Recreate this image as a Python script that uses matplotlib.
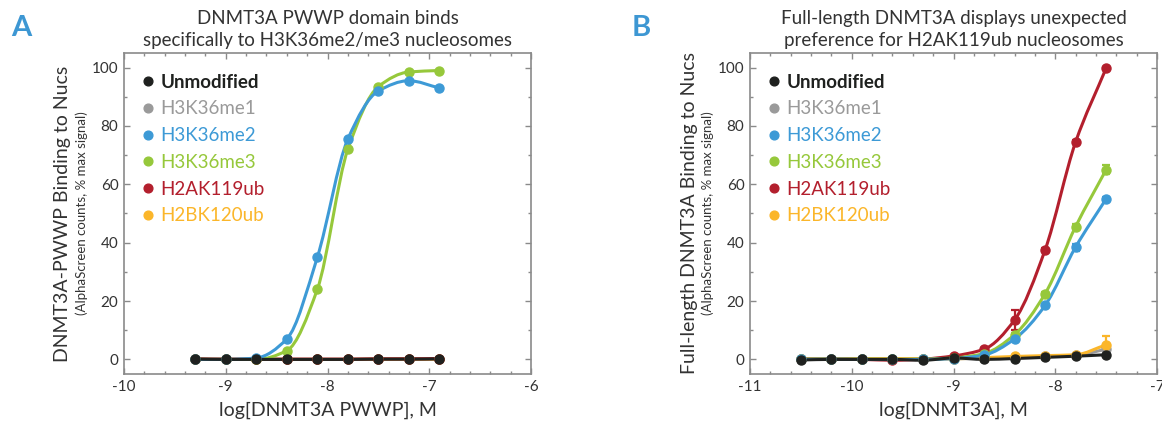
import numpy as np
import matplotlib
matplotlib.use("Agg")
import matplotlib.pyplot as plt
from matplotlib.path import Path
from matplotlib.patches import PathPatch
from matplotlib.lines import Line2D
from matplotlib.ticker import MultipleLocator

plt.rcParams["font.family"] = ["Lato", "DejaVu Sans"]
plt.rcParams["axes.unicode_minus"] = False

W, H = 1162, 424
TXT = "#333333"
SPINE = "#8a8a8a"

NAMES = ["Unmodified", "H3K36me1", "H3K36me2", "H3K36me3", "H2AK119ub", "H2BK120ub"]
COLORS = {"Unmodified": "#1f211f", "H3K36me1": "#9a9a9a", "H3K36me2": "#3d9ad6",
          "H3K36me3": "#96c83b", "H2AK119ub": "#b31f2d", "H2BK120ub": "#fbb62a"}

# panel A: DNMT3A PWWP titration
x_a = [-9.3, -9.0, -8.7, -8.4, -8.1, -7.8, -7.5, -7.2, -6.9]
a_unmod = [0.1, 0.0, 0.0, 0.0, 0.0, 0.0, 0.1, 0.1, 0.2]
a_me1 = [0.1, 0.0, 0.0, 0.0, 0.0, 0.0, 0.0, 0.1, 0.1]
a_me2 = [0.0, 0.0, 0.5, 7.0, 35.0, 75.5, 92.0, 95.5, 93.0]
a_me3 = [0.0, 0.0, 0.0, 3.0, 24.0, 72.0, 93.5, 98.5, 99.0]
a_h2a = [0.2, 0.1, 0.1, 0.1, 0.1, 0.1, 0.2, 0.2, 0.3]
a_h2b = [0.1, 0.0, 0.0, 0.0, 0.0, 0.0, 0.1, 0.1, 0.1]

# panel B: full-length DNMT3A titration
x_b = [-10.5, -10.2, -9.9, -9.6, -9.3, -9.0, -8.7, -8.4, -8.1, -7.8, -7.5]
b_unmod = [-0.2, 0.0, 0.0, 0.0, -0.3, 0.5, 0.0, 0.3, 0.7, 1.1, 1.6]
b_me1 = [0.1, 0.1, 0.1, 0.1, 0.0, 0.2, 0.4, 0.7, 1.0, 1.4, 3.5]
b_me2 = [0.0, 0.1, 0.0, 0.0, 0.0, 0.3, 1.5, 7.0, 18.5, 38.5, 55.0]
b_me3 = [0.1, 0.1, 0.1, 0.0, 0.1, 0.5, 2.0, 8.5, 22.5, 45.5, 65.0]
b_h2a = [0.1, 0.1, 0.0, -0.3, 0.1, 1.2, 3.5, 13.5, 37.5, 74.5, 99.8]
b_h2b = [0.3, 0.3, 0.3, 0.3, 0.3, 0.2, 0.6, 1.0, 1.3, 1.6, 5.0]
b_err_me2 = [0, 0, 0, 0, 0, 0, 0, 0.5, 0.6, 1.2, 0.6]
b_err_me3 = [0, 0, 0, 0, 0, 0, 0, 0.6, 0.6, 0.8, 1.6]
b_err_h2a = [0, 0, 0, 0, 0, 0, 0.4, 3.3, 0.6, 0.8, 0.5]
b_err_h2b = [0, 0, 0, 0, 0, 0, 0, 0, 0, 0, 3.0]

panel_a = {"Unmodified": a_unmod, "H3K36me1": a_me1, "H3K36me2": a_me2,
           "H3K36me3": a_me3, "H2AK119ub": a_h2a, "H2BK120ub": a_h2b}
panel_b = {"Unmodified": b_unmod, "H3K36me1": b_me1, "H3K36me2": b_me2,
           "H3K36me3": b_me3, "H2AK119ub": b_h2a, "H2BK120ub": b_h2b}
errs_b = {"H3K36me2": b_err_me2, "H3K36me3": b_err_me3,
          "H2AK119ub": b_err_h2a, "H2BK120ub": b_err_h2b}
DRAW_ORDER = ["H3K36me1", "H2BK120ub", "H2AK119ub", "H3K36me3", "H3K36me2", "Unmodified"]


def smooth_path(x, y):
    # monotone cubic (Fritsch-Carlson) segments as Bezier curves through the points
    x = np.asarray(x, float); y = np.asarray(y, float)
    h = np.diff(x); d = np.diff(y) / h
    m = np.zeros_like(y)
    m[0], m[-1] = d[0], d[-1]
    for i in range(1, len(y) - 1):
        if d[i - 1] * d[i] > 0:
            m[i] = 2.0 / (1.0 / d[i - 1] + 1.0 / d[i])
    verts = [(x[0], y[0])]
    codes = [Path.MOVETO]
    for i in range(len(x) - 1):
        verts += [(x[i] + h[i] / 3, y[i] + m[i] * h[i] / 3),
                  (x[i + 1] - h[i] / 3, y[i + 1] - m[i + 1] * h[i] / 3),
                  (x[i + 1], y[i + 1])]
        codes += [Path.CURVE4] * 3
    return Path(verts, codes)


def draw_panel(ax, x, series, errs, xlim, xlabel, ylabel, title):
    for name in DRAW_ORDER:
        c = COLORS[name]
        ax.add_patch(PathPatch(smooth_path(x, series[name]), fill=False, ec=c, lw=2.2,
                               capstyle="round", zorder=3))
        if name in errs:
            ax.errorbar(x, series[name], yerr=errs[name], fmt="none", ecolor=c,
                        elinewidth=1.6, capsize=3, capthick=1.6, zorder=3)
        ax.plot(x, series[name], "o", color=c, ms=6.5, zorder=4)
    ax.set_xlim(*xlim)
    ax.set_ylim(-5, 105)
    ax.xaxis.set_major_locator(MultipleLocator(1))
    ax.xaxis.set_minor_locator(MultipleLocator(0.2))
    ax.yaxis.set_major_locator(MultipleLocator(20))
    ax.yaxis.set_minor_locator(MultipleLocator(10))
    ax.tick_params(which="both", direction="in", top=True, right=True, color=SPINE,
                   width=1.0, labelsize=11, labelcolor=TXT)
    ax.tick_params(which="major", length=4, pad=4)
    ax.tick_params(which="minor", length=2.5)
    for s in ax.spines.values():
        s.set_color(SPINE); s.set_linewidth(1.2)
    ax.set_xlabel(xlabel, fontsize=14, color=TXT, labelpad=6)
    ax.set_title(title, fontsize=13.5, color=TXT, pad=5, linespacing=1.35)
    handles = [Line2D([], [], ls="none", marker="o", ms=6.3, color=COLORS[n]) for n in NAMES]
    leg = ax.legend(handles, NAMES, loc="upper left", frameon=False, fontsize=13.5,
                    labelcolor=[COLORS[n] for n in NAMES], handlelength=0.4,
                    handletextpad=0.45, labelspacing=0.52, borderaxespad=0.8,
                    borderpad=0.3)
    leg.get_texts()[0].set_fontweight("bold")
    pos = ax.get_position()
    left_px = pos.x0 * W
    ymid = (pos.y0 + pos.y1) / 2
    fig.text((left_px - 61) / W, ymid, ylabel, rotation=90, ha="center", va="center",
             fontsize=14, color=TXT)
    fig.text((left_px - 42) / W, ymid, "(AlphaScreen counts, % max signal)", rotation=90,
             ha="center", va="center", fontsize=9.5, color=TXT)


fig = plt.figure(figsize=(W / 100, H / 100), dpi=100)
axA = fig.add_axes([124 / W, 50 / H, 407 / W, 321 / H])
axB = fig.add_axes([750 / W, 50 / H, 407 / W, 321 / H])

draw_panel(axA, x_a, panel_a, {}, (-10, -6), "log[DNMT3A PWWP], M",
           "DNMT3A-PWWP Binding to Nucs",
           "DNMT3A PWWP domain binds\nspecifically to H3K36me2/me3 nucleosomes")
draw_panel(axB, x_b, panel_b, errs_b, (-11, -7), "log[DNMT3A], M",
           "Full-length DNMT3A Binding to Nucs",
           "Full-length DNMT3A displays unexpected\npreference for H2AK119ub nucleosomes")

fig.text(21 / W, 1 - 28 / H, "A", fontsize=21, fontweight="bold", color="#3d97d3",
         ha="center", va="center")
fig.text(641 / W, 1 - 28 / H, "B", fontsize=21, fontweight="bold", color="#3d97d3",
         ha="center", va="center")

fig.savefig("out.png", dpi=100)
